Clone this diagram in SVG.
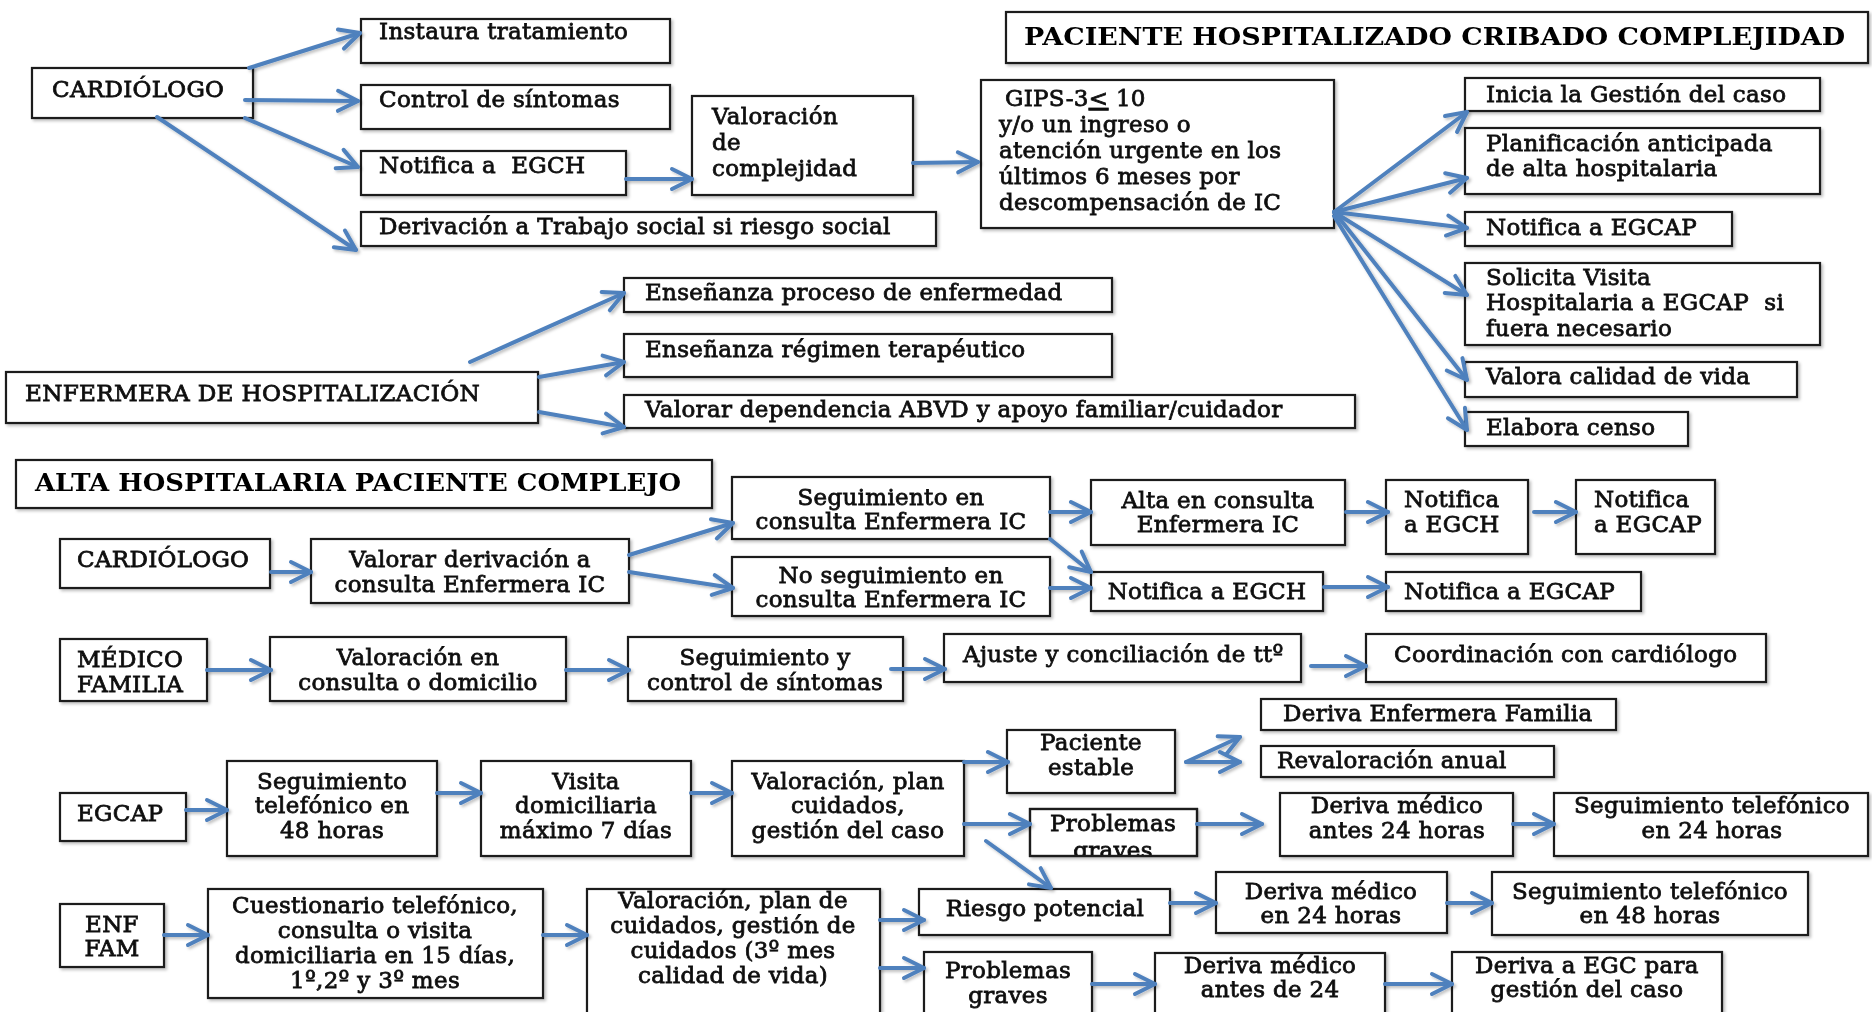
<svg xmlns="http://www.w3.org/2000/svg" width="1872" height="1012" viewBox="0 0 1872 1012">
<defs>
<style>
.bx{fill:#fff;stroke:#1a1a1a;stroke-width:2.2}
.bo{fill:none;stroke:#1a1a1a;stroke-width:2.2}
.t{font-family:"DejaVu Serif","Liberation Serif",serif;font-size:23px;fill:#111;stroke:#111;stroke-width:0.8;letter-spacing:0.3px}
.c{text-anchor:middle}
.h{font-family:"DejaVu Serif","Liberation Serif",serif;font-size:24px;font-weight:bold;fill:#000}
.ar{fill:none;stroke:#4F81BD;stroke-width:4;stroke-linecap:round;marker-end:url(#ah)}
</style>
<marker id="ah" markerUnits="userSpaceOnUse" markerWidth="30" markerHeight="30" viewBox="0 0 30 30" refX="24" refY="15" orient="auto">
<path d="M4,5 L24,15 L4,25" fill="none" stroke="#4F81BD" stroke-width="4" stroke-linecap="round" stroke-linejoin="round"/>
</marker>
<filter id="sh" x="-5%" y="-5%" width="115%" height="130%">
<feDropShadow dx="2" dy="2" stdDeviation="1.5" flood-color="#000" flood-opacity="0.25"/>
</filter>
<clipPath id="clipProb"><rect x="1030" y="809" width="167" height="47"/></clipPath>
</defs>
<rect width="1872" height="1012" fill="#fff"/>

<g id="nodes" filter="url(#sh)">
<!-- top section -->
<g id="n-cardiologo1"><rect class="bx" x="32" y="68" width="221" height="50"/><text class="t" x="52" y="97">CARDIÓLOGO</text></g>
<g id="n-instaura"><rect class="bx" x="361" y="19" width="309" height="44"/><text class="t" x="379" y="39">Instaura tratamiento</text></g>
<g id="n-control"><rect class="bx" x="361" y="85" width="309" height="44"/><text class="t" x="379" y="107">Control de síntomas</text></g>
<g id="n-notifica-egch"><rect class="bx" x="361" y="151" width="265" height="44"/><text class="t" x="379" y="173">Notifica a&#160; EGCH</text></g>
<g id="n-derivacion"><rect class="bx" x="361" y="212" width="575" height="34"/><text class="t" x="379" y="234">Derivación a Trabajo social si riesgo social</text></g>
<g id="n-valoracion-compl"><rect class="bx" x="692" y="96" width="221" height="99"/><text class="t" x="712" y="124">Valoración</text><text class="t" x="712" y="150">de</text><text class="t" x="712" y="176">complejidad</text></g>
<g id="n-gips"><rect class="bx" x="981" y="80" width="353" height="148"/>
<text class="t" x="1005" y="106">GIPS-3<tspan text-decoration="underline">&lt;</tspan> 10</text>
<text class="t" x="999" y="132">y/o un ingreso o</text>
<text class="t" x="999" y="158">atención urgente en los</text>
<text class="t" x="999" y="184">últimos 6 meses por</text>
<text class="t" x="999" y="210">descompensación de IC</text></g>
<g id="n-title1"><rect class="bx" x="1006" y="12" width="862" height="51"/><text class="h" x="1024" y="45" textLength="821" lengthAdjust="spacingAndGlyphs">PACIENTE HOSPITALIZADO CRIBADO COMPLEJIDAD</text></g>
<g id="n-inicia"><rect class="bx" x="1465" y="78" width="355" height="33"/><text class="t" x="1486" y="102">Inicia la Gestión del caso</text></g>
<g id="n-planificacion"><rect class="bx" x="1465" y="128" width="355" height="66"/><text class="t" x="1486" y="151">Planificación anticipada</text><text class="t" x="1486" y="176">de alta hospitalaria</text></g>
<g id="n-notifica-egcap1"><rect class="bx" x="1465" y="212" width="267" height="34"/><text class="t" x="1486" y="235">Notifica a EGCAP</text></g>
<g id="n-solicita"><rect class="bx" x="1465" y="263" width="355" height="82"/><text class="t" x="1486" y="285">Solicita Visita</text><text class="t" x="1486" y="310">Hospitalaria a EGCAP&#160; si</text><text class="t" x="1486" y="336">fuera necesario</text></g>
<g id="n-valora-calidad"><rect class="bx" x="1465" y="362" width="332" height="35"/><text class="t" x="1486" y="384">Valora calidad de vida</text></g>
<g id="n-elabora"><rect class="bx" x="1465" y="412" width="223" height="34"/><text class="t" x="1486" y="435">Elabora censo</text></g>
<!-- enfermera -->
<g id="n-enfermera"><rect class="bx" x="6" y="372" width="532" height="51"/><text class="t" x="25" y="401" textLength="455" lengthAdjust="spacingAndGlyphs">ENFERMERA DE HOSPITALIZACIÓN</text></g>
<g id="n-ensenanza1"><rect class="bx" x="624" y="278" width="488" height="34"/><text class="t" x="645" y="300">Enseñanza proceso de enfermedad</text></g>
<g id="n-ensenanza2"><rect class="bx" x="624" y="334" width="488" height="43"/><text class="t" x="645" y="357">Enseñanza régimen terapéutico</text></g>
<g id="n-valorar-dep"><rect class="bx" x="624" y="395" width="731" height="33"/><text class="t" x="645" y="417">Valorar dependencia ABVD y apoyo familiar/cuidador</text></g>
<!-- alta -->
<g id="n-title2"><rect class="bx" x="16" y="460" width="696" height="48"/><text class="h" x="35" y="491" textLength="646" lengthAdjust="spacingAndGlyphs">ALTA HOSPITALARIA PACIENTE COMPLEJO</text></g>
<g id="n-cardiologo2"><rect class="bx" x="60" y="539" width="210" height="49"/><text class="t" x="77" y="567">CARDIÓLOGO</text></g>
<g id="n-valorar-deriv"><rect class="bx" x="311" y="539" width="318" height="64"/><text class="t c" x="470" y="567">Valorar derivación a</text><text class="t c" x="470" y="592">consulta Enfermera IC</text></g>
<g id="n-seguimiento-ic"><rect class="bx" x="732" y="477" width="318" height="62"/><text class="t c" x="891" y="505">Seguimiento en</text><text class="t c" x="891" y="529">consulta Enfermera IC</text></g>
<g id="n-no-seguimiento"><rect class="bx" x="732" y="557" width="318" height="59"/><text class="t c" x="891" y="583">No seguimiento en</text><text class="t c" x="891" y="607">consulta Enfermera IC</text></g>
<g id="n-alta-consulta"><rect class="bx" x="1091" y="480" width="254" height="65"/><text class="t c" x="1218" y="508">Alta en consulta</text><text class="t c" x="1218" y="532">Enfermera IC</text></g>
<g id="n-notifica-egch2"><rect class="bx" x="1091" y="572" width="232" height="39"/><text class="t c" x="1207" y="599">Notifica a EGCH</text></g>
<g id="n-notifica-egch3"><rect class="bx" x="1386" y="480" width="142" height="74"/><text class="t" x="1404" y="507">Notifica</text><text class="t" x="1404" y="532">a EGCH</text></g>
<g id="n-notifica-egcap2"><rect class="bx" x="1576" y="480" width="139" height="74"/><text class="t" x="1594" y="507">Notifica</text><text class="t" x="1594" y="532">a EGCAP</text></g>
<g id="n-notifica-egcap3"><rect class="bx" x="1386" y="572" width="255" height="39"/><text class="t" x="1404" y="599">Notifica a EGCAP</text></g>
<!-- medico familia -->
<g id="n-medico-familia"><rect class="bx" x="60" y="639" width="147" height="62"/><text class="t" x="77" y="667">MÉDICO</text><text class="t" x="77" y="692">FAMILIA</text></g>
<g id="n-valoracion-consulta"><rect class="bx" x="270" y="637" width="296" height="64"/><text class="t c" x="418" y="665">Valoración en</text><text class="t c" x="418" y="690">consulta o domicilio</text></g>
<g id="n-seguimiento-control"><rect class="bx" x="628" y="637" width="275" height="64"/><text class="t c" x="765" y="665">Seguimiento y</text><text class="t c" x="765" y="690">control de síntomas</text></g>
<g id="n-ajuste"><rect class="bx" x="944" y="634" width="357" height="48"/><text class="t" x="963" y="662">Ajuste y conciliación de ttº</text></g>
<g id="n-coordinacion"><rect class="bx" x="1366" y="634" width="400" height="48"/><text class="t" x="1394" y="662">Coordinación con cardiólogo</text></g>
<!-- egcap -->
<g id="n-egcap"><rect class="bx" x="60" y="793" width="126" height="48"/><text class="t" x="77" y="821">EGCAP</text></g>
<g id="n-seg-tel-48"><rect class="bx" x="227" y="761" width="210" height="95"/><text class="t c" x="332" y="789">Seguimiento</text><text class="t c" x="332" y="813">telefónico en</text><text class="t c" x="332" y="838">48 horas</text></g>
<g id="n-visita"><rect class="bx" x="481" y="761" width="210" height="95"/><text class="t c" x="586" y="789">Visita</text><text class="t c" x="586" y="813">domiciliaria</text><text class="t c" x="586" y="838">máximo 7 días</text></g>
<g id="n-valoracion-plan"><rect class="bx" x="732" y="761" width="232" height="95"/><text class="t c" x="848" y="789">Valoración, plan</text><text class="t c" x="848" y="813">cuidados,</text><text class="t c" x="848" y="838">gestión del caso</text></g>
<g id="n-paciente-estable"><rect class="bx" x="1007" y="730" width="168" height="63"/><text class="t c" x="1091" y="750">Paciente</text><text class="t c" x="1091" y="775">estable</text></g>
<g id="n-deriva-ef"><rect class="bx" x="1261" y="699" width="355" height="31"/><text class="t" x="1283" y="721">Deriva Enfermera Familia</text></g>
<g id="n-revaloracion"><rect class="bx" x="1261" y="746" width="293" height="31"/><text class="t" x="1277" y="768">Revaloración anual</text></g>
<g id="n-problemas1"><rect class="bx" x="1030" y="809" width="167" height="47"/><g clip-path="url(#clipProb)"><text class="t c" x="1113" y="831">Problemas</text><text class="t c" x="1113" y="858">graves</text></g><rect class="bo" x="1030" y="809" width="167" height="47"/></g>
<g id="n-deriva-antes24h"><rect class="bx" x="1280" y="793" width="233" height="63"/><text class="t c" x="1397" y="813">Deriva médico</text><text class="t c" x="1397" y="838">antes 24 horas</text></g>
<g id="n-seg-tel-24"><rect class="bx" x="1554" y="793" width="314" height="63"/><text class="t c" x="1712" y="813">Seguimiento telefónico</text><text class="t c" x="1712" y="838">en 24 horas</text></g>
<!-- enf fam -->
<g id="n-enf-fam"><rect class="bx" x="60" y="904" width="104" height="63"/><text class="t c" x="112" y="932">ENF</text><text class="t c" x="112" y="956">FAM</text></g>
<g id="n-cuestionario"><rect class="bx" x="208" y="889" width="335" height="109"/><text class="t c" x="375" y="913">Cuestionario telefónico,</text><text class="t c" x="375" y="938">consulta o visita</text><text class="t c" x="375" y="963">domiciliaria en 15 días,</text><text class="t c" x="375" y="988">1º,2º y 3º mes</text></g>
<g id="n-valoracion-plan2"><rect class="bx" x="587" y="889" width="293" height="140"/><text class="t c" x="733" y="908">Valoración, plan de</text><text class="t c" x="733" y="933">cuidados, gestión de</text><text class="t c" x="733" y="958">cuidados (3º mes</text><text class="t c" x="733" y="983">calidad de vida)</text></g>
<g id="n-riesgo"><rect class="bx" x="919" y="889" width="251" height="46"/><text class="t c" x="1045" y="916">Riesgo potencial</text></g>
<g id="n-problemas2"><rect class="bx" x="924" y="952" width="168" height="80"/><text class="t c" x="1008" y="978">Problemas</text><text class="t c" x="1008" y="1003">graves</text></g>
<g id="n-deriva-24h"><rect class="bx" x="1216" y="872" width="231" height="61"/><text class="t c" x="1331" y="899">Deriva médico</text><text class="t c" x="1331" y="923">en 24 horas</text></g>
<g id="n-seg-tel-48b"><rect class="bx" x="1492" y="872" width="316" height="63"/><text class="t c" x="1650" y="899">Seguimiento telefónico</text><text class="t c" x="1650" y="923">en 48 horas</text></g>
<g id="n-deriva-antes24"><rect class="bx" x="1155" y="953" width="230" height="80"/><text class="t c" x="1270" y="973">Deriva médico</text><text class="t c" x="1270" y="997">antes de 24</text></g>
<g id="n-deriva-egc"><rect class="bx" x="1452" y="952" width="270" height="80"/><text class="t c" x="1587" y="973">Deriva a EGC para</text><text class="t c" x="1587" y="997">gestión del caso</text></g>
</g>

<g id="connectors" filter="url(#sh)">
<path class="ar" d="M249,68 L360,33"/>
<path class="ar" d="M245,100 L358,101"/>
<path class="ar" d="M245,118 L358,167"/>
<path class="ar" d="M157,117 L356,250"/>
<path class="ar" d="M626,179 L692,179"/>
<path class="ar" d="M913,163 L978,162"/>
<path class="ar" d="M1334,212 L1467,112"/>
<path class="ar" d="M1334,212 L1467,178"/>
<path class="ar" d="M1334,212 L1467,228"/>
<path class="ar" d="M1334,212 L1467,295"/>
<path class="ar" d="M1336,214 L1467,380"/>
<path class="ar" d="M1334,216 L1467,430"/>
<path class="ar" d="M470,362 L624,293"/>
<path class="ar" d="M539,377 L624,362"/>
<path class="ar" d="M539,412 L624,427"/>
<path class="ar" d="M271,572 L311,572"/>
<path class="ar" d="M629,555 L733,523"/>
<path class="ar" d="M629,572 L733,588"/>
<path class="ar" d="M1050,512 L1091,512"/>
<path class="ar" d="M1050,539 L1091,572"/>
<path class="ar" d="M1050,588 L1091,588"/>
<path class="ar" d="M1346,512 L1388,512"/>
<path class="ar" d="M1534,512 L1576,512"/>
<path class="ar" d="M1324,587 L1388,587"/>
<path class="ar" d="M207,670 L271,670"/>
<path class="ar" d="M566,670 L629,670"/>
<path class="ar" d="M891,669 L945,669"/>
<path class="ar" d="M1311,666 L1366,666"/>
<path class="ar" d="M186,810 L227,810"/>
<path class="ar" d="M437,793 L481,793"/>
<path class="ar" d="M691,793 L732,793"/>
<path class="ar" d="M964,762 L1008,762"/>
<path class="ar" d="M1186,762 L1240,737"/>
<path class="ar" d="M1186,762 L1240,762"/>
<path class="ar" d="M964,824 L1030,824"/>
<path class="ar" d="M1197,824 L1262,824"/>
<path class="ar" d="M1513,824 L1554,824"/>
<path class="ar" d="M986,841 L1051,888"/>
<path class="ar" d="M164,935 L208,935"/>
<path class="ar" d="M543,935 L587,935"/>
<path class="ar" d="M880,920 L924,920"/>
<path class="ar" d="M880,968 L924,968"/>
<path class="ar" d="M1170,903 L1216,903"/>
<path class="ar" d="M1447,903 L1492,903"/>
<path class="ar" d="M1092,984 L1155,984"/>
<path class="ar" d="M1385,984 L1452,984"/>
</g>
</svg>
